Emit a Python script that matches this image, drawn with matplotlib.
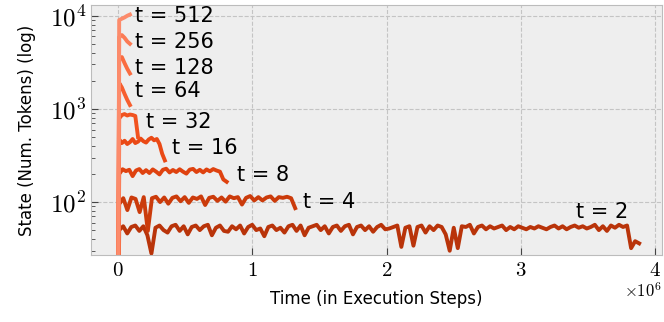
import numpy as np
import matplotlib
matplotlib.use("Agg")
import matplotlib.pyplot as plt
from matplotlib.ticker import FuncFormatter, LogLocator, FixedLocator

plt.rcParams['mathtext.fontset'] = 'cm'
plt.rcParams['font.family'] = 'DejaVu Sans'

# --- data (time in millions of execution steps, state in tokens) ---
labels = ["t = 2", "t = 4", "t = 8", "t = 16", "t = 32", "t = 64", "t = 128", "t = 256", "t = 512"]
colors = ["#b9340a", "#cb3b0b", "#df420f", "#ea4915", "#f1521f", "#f75e2e", "#fa6c40", "#fb7b55", "#fc8b6b"]

start_state = 1.0  # every run starts from (almost) nothing at time 0

t2_span = (0.01, 3.88)
t2_vals = [50, 55, 46, 54, 56, 49, 55, 44, 28, 53,
           56, 50, 47, 55, 57, 49, 55, 45, 54, 56,
           50, 55, 57, 44, 53, 56, 49, 48, 55, 51,
           56, 46, 54, 57, 50, 52, 43, 54, 56, 50,
           53, 47, 55, 57, 49, 56, 44, 53, 55, 57,
           50, 55, 46, 54, 56, 49, 55, 57, 45, 54,
           56, 50, 55, 48, 54, 57, 51, 52, 54, 56,
           33, 53, 55, 34, 54, 56, 47, 55, 50, 56,
           54, 45, 30, 53, 32, 55, 54, 57, 46, 54,
           56, 51, 55, 52, 54, 56, 50, 54, 51, 55,
           53, 51, 54, 52, 55, 53, 51, 54, 56, 52,
           55, 51, 54, 56, 53, 55, 52, 54, 57, 50,
           55, 49, 56, 53, 57, 54, 56, 32, 38, 36]

t4_span = (0.01, 1.32)
t4_vals = [95, 110, 82, 112, 108, 78, 113, 49, 110, 114,
           100, 112, 96, 111, 115, 102, 113, 98, 112, 108,
           115, 93, 111, 114, 103, 112, 101, 115, 110, 113,
           94, 111, 116, 104, 113, 104, 112, 115, 103, 113,
           111, 114, 110, 86]

t8_span = (0.01, 0.81)
t8_vals = [200, 225, 215, 222, 190, 218, 226, 205, 220, 205,
           224, 212, 198, 222, 228, 208, 221, 210, 225, 212,
           202, 223, 227, 210, 222, 208, 224, 214, 226, 218,
           212, 175, 165]

t16_span = (0.01, 0.35)
t16_vals = [470, 430, 455, 420, 440, 475, 430, 445, 480, 450,
            435, 470, 490, 460, 475, 420, 330, 280]

t32_span = (0.01, 0.15)
t32_vals = [790, 860, 880, 850, 870, 860, 840, 500]

t64_span = (0.01, 0.09)
t64_vals = [1900, 1700, 1450, 1250, 1100]

t128_span = (0.01, 0.09)
t128_vals = [3500, 3600, 3100, 2700, 2400]

t256_span = (0.01, 0.09)
t256_vals = [5900, 6200, 5800, 5300, 5000]

t512_span = (0.01, 0.09)
t512_vals = [9000, 9300, 9600, 10000, 10300]

spans = [t2_span, t4_span, t8_span, t16_span, t32_span, t64_span, t128_span, t256_span, t512_span]
series = [t2_vals, t4_vals, t8_vals, t16_vals, t32_vals, t64_vals, t128_vals, t256_vals, t512_vals]

# where the "t = ..." annotations sit (x in 1e6 steps, y in tokens)
label_x = [3.41, 1.38, 0.89, 0.40, 0.21, 0.13, 0.13, 0.13, 0.13]
label_y = [79, 101, 193, 377, 720, 1550, 2750, 5240, 10000]

fig = plt.figure(figsize=(6.64, 3.22), dpi=100)
ax = fig.add_subplot(111)
fig.subplots_adjust(left=0.137, right=0.997, top=0.984, bottom=0.208)

ax.set_facecolor('#eeeeee')
for s in ax.spines.values():
    s.set_color('#bcbcbc')
ax.grid(True, which='major', color='#c4c4c4', linestyle='--', linewidth=0.8)
ax.set_axisbelow(True)

for vals, span, col, lab, lx, ly in zip(series, spans, colors, labels, label_x, label_y):
    tt = np.concatenate([[0.0], np.linspace(span[0], span[1], len(vals))]) * 1e6
    yy = np.concatenate([[start_state], vals])
    ax.plot(tt, yy, color=col, lw=2.8, solid_joinstyle='round')
    ax.text(lx * 1e6, ly, lab, fontsize=15, ha='left', va='center', color='black')

ax.set_yscale('log')
ax.set_xlim(-0.2e6, 4.05e6)
ax.set_ylim(27, 13000)

ax.xaxis.set_major_locator(FixedLocator([0, 1e6, 2e6, 3e6, 4e6]))
ax.xaxis.set_major_formatter(FuncFormatter(lambda v, p: r'$%d$' % round(v / 1e6)))
ax.yaxis.set_major_locator(LogLocator(base=10))
ax.yaxis.set_minor_locator(LogLocator(base=10, subs=np.arange(2, 10)))
ax.yaxis.set_major_formatter(FuncFormatter(lambda v, p: r'$10^{%d}$' % round(np.log10(v))))
ax.tick_params(axis='both', which='both', direction='in', colors='#444444', labelcolor='black')
ax.tick_params(axis='x', which='major', labelsize=15, length=5)
ax.tick_params(axis='y', which='major', labelsize=18, length=5)
ax.tick_params(axis='y', which='minor', length=3)
ax.text(1.0, -0.11, r'$\times10^{6}$', transform=ax.transAxes, ha='right', va='top', fontsize=12)

ax.set_xlabel('Time (in Execution Steps)', fontsize=12, labelpad=7)
ax.set_ylabel('State (Num. Tokens) (log)', fontsize=12, labelpad=10)

fig.savefig('out.png', dpi=100)
